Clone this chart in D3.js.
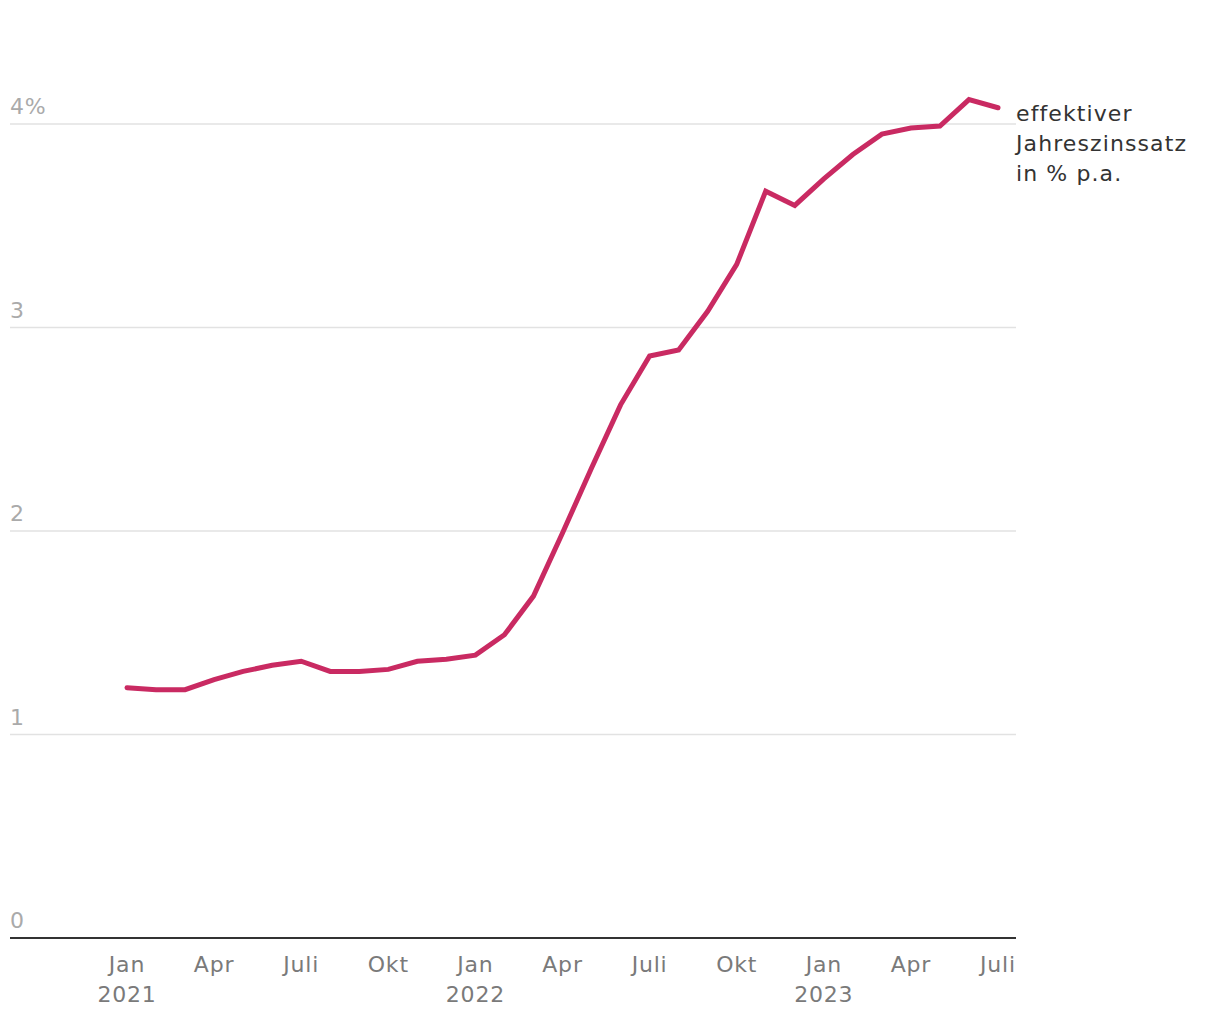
<!DOCTYPE html>
<html><head><meta charset="utf-8">
<script src="https://cdn.jsdelivr.net/npm/d3@7"></script>
<style>
body{margin:0;background:#fff;}
text{font-family:"DejaVu Sans",Verdana,sans-serif;}
</style></head>
<body>
<svg id="chart" width="1220" height="1020"></svg>
<script>
const months = ["2021-01","2021-02","2021-03","2021-04","2021-05","2021-06","2021-07","2021-08","2021-09","2021-10","2021-11","2021-12",
"2022-01","2022-02","2022-03","2022-04","2022-05","2022-06","2022-07","2022-08","2022-09","2022-10","2022-11","2022-12",
"2023-01","2023-02","2023-03","2023-04","2023-05","2023-06","2023-07"];
const rates = [1.23,1.22,1.22,1.27,1.31,1.34,1.36,1.31,1.31,1.32,1.36,1.37,
1.39,1.49,1.68,1.99,2.31,2.62,2.86,2.89,3.08,3.31,3.67,3.60,
3.73,3.85,3.95,3.98,3.99,4.12,4.08];
const yTicks = [0,1,2,3,4];
const yTickLabels = ["0","1","2","3","4%"];
const xTickIdx = [0,3,6,9,12,15,18,21,24,27,30];
const xTickMonth = ["Jan","Apr","Juli","Okt","Jan","Apr","Juli","Okt","Jan","Apr","Juli"];
const xTickYear = ["2021","","","","2022","","","","2023","",""];
const seriesLabel = ["effektiver","Jahreszinssatz","in % p.a."];

const svg = d3.select("#chart");
const x = d3.scaleLinear().domain([0,30]).range([127,998]);
const y = d3.scaleLinear().domain([0,4]).range([938,124]);
const left = 10, right = 1016;

// gridlines
svg.append("g").selectAll("line").data(yTicks.filter(d=>d>0)).join("line")
  .attr("x1",left).attr("x2",right)
  .attr("y1",d=>y(d)).attr("y2",d=>y(d))
  .attr("stroke","#e2e2e2").attr("stroke-width",1.5);

// y labels
svg.append("g").selectAll("text").data(yTicks).join("text")
  .attr("x",left).attr("y",d=>y(d)-10)
  .attr("fill","#aaaaaa").attr("font-size",22).attr("letter-spacing",0.8)
  .text((d,i)=>yTickLabels[i]);

// baseline
svg.append("line").attr("x1",left).attr("x2",right)
  .attr("y1",y(0)).attr("y2",y(0))
  .attr("stroke","#333").attr("stroke-width",2);

// x labels
const xg = svg.append("g");
xg.selectAll("text.m").data(xTickIdx).join("text").attr("class","m")
  .attr("x",d=>x(d)).attr("y",972).attr("text-anchor","middle")
  .attr("fill","#7a7a7a").attr("font-size",22).attr("letter-spacing",0.8)
  .text((d,i)=>xTickMonth[i]);
xg.selectAll("text.yr").data(xTickIdx).join("text").attr("class","yr")
  .attr("x",d=>x(d)).attr("y",1002).attr("text-anchor","middle")
  .attr("fill","#7a7a7a").attr("font-size",22).attr("letter-spacing",0.8)
  .text((d,i)=>xTickYear[i]);

// line
const line = d3.line().x((d,i)=>x(i)).y(d=>y(d));
svg.append("path").datum(rates)
  .attr("d",line).attr("fill","none")
  .attr("stroke","#c92a62").attr("stroke-width",5)
  .attr("stroke-linecap","round").attr("stroke-linejoin","miter");

// series label
svg.append("g").selectAll("text").data(seriesLabel).join("text")
  .attr("x",1016).attr("y",(d,i)=>121+i*30)
  .attr("fill","#333").attr("font-size",22).attr("letter-spacing",1.1)
  .text(d=>d);
</script>
</body></html>
